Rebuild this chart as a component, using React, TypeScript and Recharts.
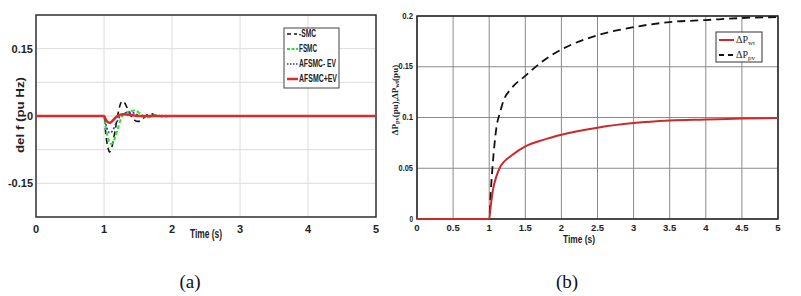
import React from "react";
import { LineChart, Line, XAxis, YAxis, CartesianGrid, ReferenceArea } from "recharts";

// ---- Panel (a): frequency deviation ----
const timesA = [0, 1, 1.03, 1.06, 1.08, 1.1, 1.13, 1.16, 1.2, 1.24, 1.27, 1.3, 1.35, 1.4, 1.45, 1.5, 1.55, 1.6, 1.65, 1.7, 1.75, 1.8, 1.9, 2, 5];
const smc = [0, 0, -0.045, -0.072, -0.08, -0.077, -0.06, -0.035, 0.0, 0.026, 0.033, 0.03, 0.015, 0.0, -0.009, -0.012, -0.009, -0.002, 0.004, 0.005, 0.002, -0.002, 0, 0, 0];
const fsmc = [0, 0, -0.03, -0.05, -0.058, -0.062, -0.06, -0.048, -0.03, -0.01, 0.0, 0.005, 0.009, 0.011, 0.012, 0.009, 0.003, -0.002, -0.003, -0.001, 0.002, 0.001, -0.001, 0, 0];
const afsmcMinus = [0, 0, -0.02, -0.033, -0.038, -0.037, -0.032, -0.022, -0.01, 0.0, 0.003, 0.006, 0.008, 0.008, 0.006, 0.002, -0.001, -0.002, 0.0, 0.002, 0.001, 0, 0, 0, 0];
const afsmcPlus = [0, 0, -0.009, -0.014, -0.015, -0.014, -0.01, -0.005, 0.0, 0.003, 0.004, 0.004, 0.003, 0.002, 0.001, 0, 0, 0, 0, 0, 0, 0, 0, 0, 0];
const yTicksA = [-0.225, -0.15, -0.075, 0, 0.075, 0.15, 0.225];
const yLabelsA = [-0.15, 0, 0.15];
const xTicksA = [0, 1, 2, 3, 4, 5];
const legendA = ["-SMC", "FSMC", "AFSMC- EV", "AFSMC+EV"];
const legendAWidths = [17, 18, 37, 38];

// ---- Panel (b): power changes ----
const timesB = [0, 1, 1.02, 1.05, 1.1, 1.15, 1.2, 1.3, 1.5, 1.75, 2, 2.5, 3, 3.5, 4, 4.5, 5];
const dPpv = [0, 0, 0.025, 0.055, 0.09, 0.105, 0.117, 0.128, 0.141, 0.156, 0.167, 0.181, 0.189, 0.194, 0.196, 0.198, 0.199];
const dPwt = [0, 0, 0.012, 0.028, 0.042, 0.051, 0.056, 0.062, 0.0715, 0.078, 0.083, 0.09, 0.0945, 0.097, 0.098, 0.099, 0.0995];
const yTicksB = [0, 0.05, 0.1, 0.15, 0.2];
const xTicksB = [0, 0.5, 1, 1.5, 2, 2.5, 3, 3.5, 4, 4.5, 5];

const dataA = timesA.map((t, i) => ({ t, smc: smc[i], fsmc: fsmc[i], am: afsmcMinus[i], ap: afsmcPlus[i] }));
const dataB = timesB.map((t, i) => ({ t, pv: dPpv[i], wt: dPwt[i] }));

const sans = "'Liberation Sans', Arial, sans-serif";
const serif = "'Liberation Serif', 'Times New Roman', serif";

const tickA = { fontSize: 11, fontWeight: 700, fill: "#222", fontFamily: sans };
const tickB = { fontSize: 9.5, fontWeight: 700, fill: "#222", fontFamily: sans };

// narrow y tick label for panel (b)
const NarrowYTick = (props: any) => {
  const { x, y, payload } = props;
  const s = String(payload.value);
  const w = s.length * 3.6;
  return (
    <text x={x} y={y} textAnchor="end" dominantBaseline="middle" fontFamily={sans} fontWeight={700} fontSize={9.5} fill="#222" textLength={w} lengthAdjust="spacingAndGlyphs">
      {s}
    </text>
  );
};

export default function App() {
  return (
    <div style={{ position: "absolute", left: 0, top: 0, width: 801, height: 296, background: "#fff", overflow: "hidden" }}>
      <LineChart
        width={400}
        height={296}
        data={dataA}
        margin={{ top: 15, right: 24, bottom: 49, left: 0 }}
        style={{ position: "absolute", left: 0, top: 0 }}
      >
        <CartesianGrid stroke="#dcdcdc" strokeWidth={1} horizontalValues={yTicksA} verticalValues={xTicksA} />
        <XAxis
          dataKey="t"
          type="number"
          domain={[0, 5]}
          ticks={xTicksA}
          interval={0}
          height={30}
          tickSize={0}
          tickMargin={8}
          axisLine={false}
          tickLine={false}
          tick={tickA}
        />
        <YAxis
          type="number"
          domain={[-0.225, 0.225]}
          ticks={yTicksA}
          interval={0}
          width={36}
          tickSize={0}
          tickMargin={3}
          axisLine={false}
          tickLine={false}
          tickFormatter={(v: number) => (yLabelsA.some((l) => Math.abs(l - v) < 1e-9) ? (v === 0 ? "0" : String(v)) : "")}
          tick={tickA}
        />
        <ReferenceArea x1={0} x2={5} y1={-0.225} y2={0.225} fill="none" stroke="#333" strokeWidth={1.5} />
        <Line dataKey="smc" type="monotone" stroke="#111" strokeWidth={1.6} strokeDasharray="6 4" dot={false} isAnimationActive={false} />
        <Line dataKey="fsmc" type="monotone" stroke="#33dd33" strokeWidth={2} strokeDasharray="4 2" dot={false} isAnimationActive={false} />
        <Line dataKey="am" type="monotone" stroke="#3a3aa8" strokeWidth={1.6} strokeDasharray="2 2" dot={false} isAnimationActive={false} />
        <Line dataKey="ap" type="monotone" stroke="#dd2a2a" strokeWidth={2.5} dot={false} isAnimationActive={false} />
      </LineChart>

      <LineChart
        width={421}
        height={296}
        data={dataB}
        margin={{ top: 16, right: 23, bottom: 47, left: 0 }}
        style={{ position: "absolute", left: 380, top: 0 }}
      >
        <CartesianGrid stroke="#8a8a8a" strokeWidth={1} horizontalValues={yTicksB} verticalValues={xTicksB} />
        <XAxis
          dataKey="t"
          type="number"
          domain={[0, 5]}
          ticks={xTicksB}
          interval={0}
          height={30}
          tickSize={0}
          tickMargin={5}
          axisLine={false}
          tickLine={false}
          tick={tickB}
        />
        <YAxis
          type="number"
          domain={[0, 0.2]}
          ticks={yTicksB}
          interval={0}
          width={37}
          tickSize={0}
          tickMargin={4}
          axisLine={false}
          tickLine={false}
          tick={<NarrowYTick />}
        />
        <ReferenceArea x1={0} x2={5} y1={0} y2={0.2} fill="none" stroke="#222" strokeWidth={1.5} />
        <Line dataKey="pv" type="monotone" stroke="#111" strokeWidth={1.8} strokeDasharray="8 5" dot={false} isAnimationActive={false} />
        <Line dataKey="wt" type="monotone" stroke="#cc2a2a" strokeWidth={2} dot={false} isAnimationActive={false} />
      </LineChart>

      <svg width={801} height={296} style={{ position: "absolute", left: 0, top: 0, pointerEvents: "none" }}>
        {/* Panel (a) titles */}
        <text x={21} y={115} transform="rotate(-90 21 115)" textAnchor="middle" dominantBaseline="middle" fontFamily={sans} fontWeight={700} fontSize={11} fill="#222" textLength={76} lengthAdjust="spacingAndGlyphs">
          del f (pu Hz)
        </text>
        <text x={206} y={235} textAnchor="middle" dominantBaseline="middle" fontFamily={sans} fontWeight={700} fontSize={12} fill="#222" textLength={32} lengthAdjust="spacingAndGlyphs">
          Time (s)
        </text>
        {/* Legend (a) */}
        <rect x={284} y={28} width={55} height={60} fill="#fff" stroke="#444" strokeWidth={1} />
        <line x1={287} x2={297} y1={34} y2={34} stroke="#111" strokeWidth={1.6} strokeDasharray="4 3" />
        <line x1={287} x2={298} y1={49} y2={49} stroke="#33dd33" strokeWidth={2} strokeDasharray="3 1.5" />
        <line x1={287} x2={298} y1={64} y2={64} stroke="#3a3aa8" strokeWidth={1.6} strokeDasharray="1.5 1.5" />
        <line x1={287} x2={298} y1={79} y2={79} stroke="#dd2a2a" strokeWidth={2.5} />
        {legendA.map((s, i) => (
          <text key={s} x={299} y={34 + i * 15} dominantBaseline="middle" fontFamily={sans} fontWeight={700} fontSize={10} fill="#222" textLength={legendAWidths[i]} lengthAdjust="spacingAndGlyphs">
            {s}
          </text>
        ))}

        {/* Panel (b) titles */}
        <text x={396} y={100} transform="rotate(-90 396 100)" textAnchor="middle" dominantBaseline="middle" fontFamily={serif} fontWeight={700} fontSize={9} fill="#222">
          ΔP<tspan fontSize={6.5} dy={2}>pv</tspan><tspan dy={-2}>(pu),ΔP</tspan><tspan fontSize={6.5} dy={2}>wt</tspan><tspan dy={-2}>(pu)</tspan>
        </text>
        <text x={579} y={240} textAnchor="middle" dominantBaseline="middle" fontFamily={sans} fontWeight={700} fontSize={10} fill="#222" textLength={32} lengthAdjust="spacingAndGlyphs">
          Time (s)
        </text>
        {/* Legend (b) */}
        <rect x={716} y={32} width={46} height={30} fill="#fff" stroke="#333" strokeWidth={1} />
        <line x1={719} x2={734} y1={40} y2={40} stroke="#cc2a2a" strokeWidth={2} />
        <line x1={719} x2={734} y1={55} y2={55} stroke="#111" strokeWidth={1.8} strokeDasharray="5 4" />
        <text x={736} y={41} dominantBaseline="middle" fontFamily={serif} fontSize={10} fill="#222">
          ΔP<tspan fontSize={7} dy={2}>wt</tspan>
        </text>
        <text x={736} y={56} dominantBaseline="middle" fontFamily={serif} fontSize={10} fill="#222">
          ΔP<tspan fontSize={7} dy={2}>pv</tspan>
        </text>

        {/* captions */}
        <text x={190} y={284} textAnchor="middle" dominantBaseline="middle" fontFamily={serif} fontSize={19} fill="#111">(a)</text>
        <text x={567} y={284} textAnchor="middle" dominantBaseline="middle" fontFamily={serif} fontSize={19} fill="#111">(b)</text>
      </svg>
    </div>
  );
}
